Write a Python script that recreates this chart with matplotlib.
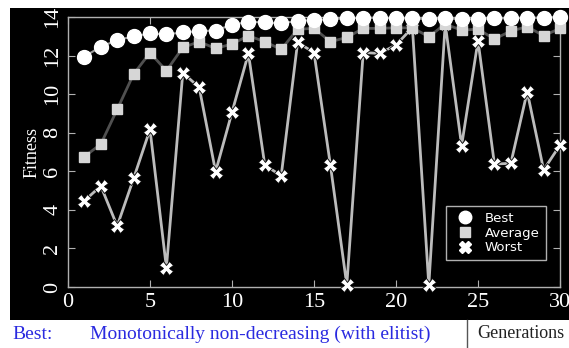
import numpy as np
import matplotlib
matplotlib.use("Agg")
from matplotlib import pyplot as plt
from matplotlib.patches import Rectangle
from matplotlib.lines import Line2D

gens = list(range(1, 31))
best = [11.95, 12.46, 12.8, 13.0, 13.15, 13.1, 13.2, 13.27, 13.3, 13.6,
        13.75, 13.72, 13.67, 13.8, 13.84, 13.89, 13.93, 13.96, 13.96, 13.93,
        13.93, 13.89, 13.93, 13.89, 13.89, 13.93, 13.93, 13.96, 13.96, 14.01]
average = [6.76, 7.41, 9.21, 11.04, 12.15, 11.21, 12.42, 12.72, 12.37, 12.6,
           13.03, 12.72, 12.32, 13.37, 13.41, 12.72, 12.94, 13.41, 13.41, 13.44,
           13.44, 12.98, 13.63, 13.32, 13.37, 12.86, 13.27, 13.5, 13.03, 13.41]
worst = [4.47, 5.24, 3.16, 5.63, 8.17, 1.0, 11.11, 10.35, 5.98, 9.06,
         12.11, 6.32, 5.77, 12.68, 12.16, 6.32, 0.1, 12.16, 12.11, 12.55,
         13.45, 0.1, 13.65, 7.33, 12.77, 6.38, 6.41, 10.13, 6.07, 7.36]
labels = ["Best", "Average", "Worst"]

serif = "Liberation Serif"
fig = plt.figure(figsize=(5.69, 3.48), dpi=100)
fig.patch.set_facecolor("white")
# black panel behind the chart
fig.patches.append(Rectangle((0.0176, 0.0805), 1.0, 0.8965, transform=fig.transFigure,
                             facecolor="black", edgecolor="none", zorder=-5))

ax = fig.add_axes([0.1195, 0.1753, 0.8647, 0.7758])
ax.set_facecolor("black")

ax.plot(gens, worst, color="#bcbcbc", lw=2, marker="X", ms=9.5, mfc="white",
        mec="black", mew=0.6, label=labels[2], zorder=3, clip_on=False)
ax.plot(gens, average, color="#505050", lw=2, marker="s", ms=7.5, mfc="#d6d6d6",
        mec="#d6d6d6", label=labels[1], zorder=4, clip_on=False)
ax.plot(gens, best, color="#9a9a9a", lw=1.5, marker="o", ms=10, mfc="white",
        mec="white", label=labels[0], zorder=5, clip_on=False)

ax.set_xlim(0, 30)
ax.set_ylim(0, 14)
ax.set_xticks(range(0, 31, 5))
ax.set_yticks(range(0, 15, 2))
for s in ax.spines.values():
    s.set_color("#b0b0b0")
    s.set_linewidth(1)
ax.tick_params(direction="in", colors="#b0b0b0", length=5, top=True, right=True,
               labelcolor="white")
for t in ax.get_xticklabels():
    t.set_fontfamily(serif)
    t.set_fontsize(16)
for t in ax.get_yticklabels():
    t.set_fontfamily(serif)
    t.set_fontsize(16)
    t.set_rotation(90)
    t.set_va("center")
ax.tick_params(axis="y", pad=4)
ax.tick_params(axis="x", pad=4)
ax.set_ylabel("Fitness", color="white", fontfamily=serif, fontsize=13, labelpad=2)

handles = [Line2D([], [], ls="none", marker="o", ms=9, mfc="white", mec="white"),
           Line2D([], [], ls="none", marker="s", ms=7, mfc="#d6d6d6", mec="#d6d6d6"),
           Line2D([], [], ls="none", marker="X", ms=9, mfc="white", mec="white")]
leg = ax.legend(handles, labels, loc="lower right", bbox_to_anchor=(0.984, 0.074),
                fancybox=False, facecolor="black", edgecolor="#b0b0b0",
                labelcolor="white", fontsize=9.5, handletextpad=0.5,
                borderpad=0.45, labelspacing=0.15, framealpha=1)
leg.set_zorder(10)

# bottom caption strip
fig.text(0.021, 0.025, "Best:", color="#2a2ae0", fontfamily=serif, fontsize=14)
fig.text(0.158, 0.025, "Monotonically non-decreasing (with elitist)",
         color="#2a2ae0", fontfamily=serif, fontsize=14)
fig.lines.append(Line2D([0.821, 0.821], [0.0, 0.0805], transform=fig.transFigure,
                        color="#555555", lw=1))
fig.text(0.838, 0.03, "Generations", color="#222222", fontfamily=serif, fontsize=13)

plt.savefig("out.png", dpi=100)
